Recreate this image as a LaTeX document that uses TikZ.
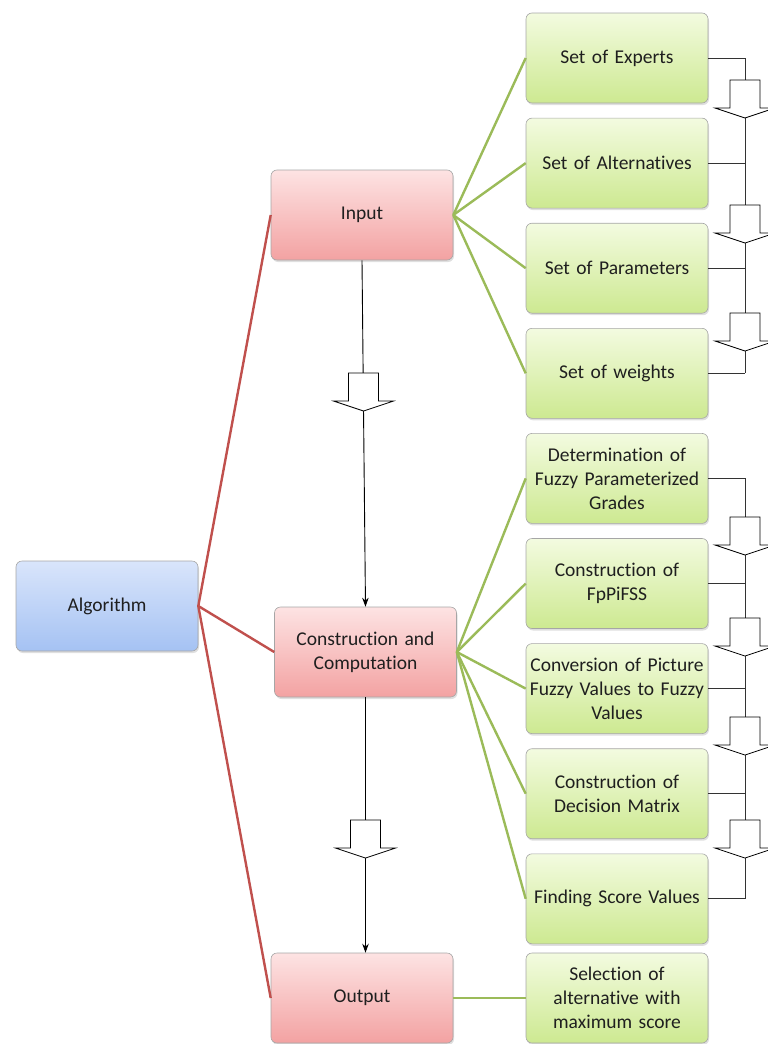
\documentclass[tikz,border=0pt]{standalone}
\usepackage{fontspec}
\setmainfont{Carlito}[Ligatures=NoCommon]
\usetikzlibrary{arrows.meta,shadows,positioning}
\definecolor{algtop}{HTML}{D9E5FB}
\definecolor{algbot}{HTML}{A5C2F3}
\definecolor{maintop}{HTML}{FDE3E3}
\definecolor{mainbot}{HTML}{F3A2A2}
\definecolor{subtop}{HTML}{F3FBE0}
\definecolor{subbot}{HTML}{CDE991}
\definecolor{redline}{HTML}{C0504D}
\definecolor{greenline}{HTML}{9BBB59}

\begin{document}
\begin{tikzpicture}[x=1pt,y=1pt,>={Stealth[length=9pt,width=6.5pt]},node distance=14.5pt,
  box/.style={rectangle, rounded corners=6pt, draw=black!35, line width=0.6pt,
    minimum height=90pt, inner xsep=3pt, text width=176pt, align=center,
    font=\fontsize{19.5}{24}\selectfont, text=black!88,
    drop shadow={opacity=0.25, shadow xshift=1pt, shadow yshift=-2pt}},
  algbox/.style={box, top color=algtop, bottom color=algbot},
  mainbox/.style={box, top color=maintop, bottom color=mainbot},
  subbox/.style={box, top color=subtop, bottom color=subbot},
  redlink/.style={draw=redline, line width=2.4pt},
  greenlink/.style={draw=greenline, line width=2.4pt},
  rail/.style={draw=black!80, line width=0.9pt},
  hollowdown/.pic={\draw[fill=white, line width=0.8pt] (-15,0) -- (15,0) -- (15,-28) -- (30,-28)
    -- (0,-38) -- (-30,-28) -- (-15,-28) -- cycle;}]
  \useasboundingbox (0,0) rectangle (768,-1044);

  \node [algbox] (alg) at (107,-606) {Algorithm};
  \node [mainbox] (inp) at (362,-215) {Input};
  \node [mainbox] (con) at (365.5,-652) {Construction and\\Computation};
  \node [mainbox] (out) at (362,-998) {Output};

  \node [subbox] (exp) at (617,-58) {Set of Experts};
  \node [subbox,below=of exp] (alt) {Set of Alternatives};
  \node [subbox,below=of alt] (par) {Set of Parameters};
  \node [subbox,below=of par] (wts) {Set of weights};
  \node [subbox,below=of wts] (det) {Determination of\\Fuzzy Parameterized\\Grades};
  \node [subbox,below=of det] (fpp) {Construction of\\FpPiFSS};
  \node [subbox,below=of fpp] (cnv) {Conversion of Picture\\Fuzzy Values to Fuzzy\\Values};
  \node [subbox,below=of cnv] (dec) {Construction of\\Decision Matrix};
  \node [subbox,below=of dec] (fsv) {Finding Score Values};
  \node [subbox] (sel) at (617,-998) {Selection of\\alternative with\\maximum score};

  % tree links
  \foreach \m in {inp,con,out}
    \path[redlink] (alg.east) -- (\m.west);
  \foreach \s in {exp,alt,par,wts}
    \path[greenlink] (inp.east) -- (\s.west);
  \foreach \s in {det,fpp,cnv,dec,fsv}
    \path[greenlink] (con.east) -- (\s.west);
  \path[greenlink] (out.east) -- (sel.west);

  % flow down the middle
  \draw[->, line width=0.9pt] (inp.south) -- (con.north);
  \draw[->, line width=0.9pt] (con.south) -- (con.south |- out.north);
  \pic at (363.5,-373) {hollowdown};
  \pic at (365.5,-820) {hollowdown};

  % right rails
  \coordinate (rx) at (745,0);
  \foreach \s in {exp,alt,par,wts,det,fpp,cnv,dec,fsv}
    \path[rail] (\s.east) -- (\s.east -| rx);
  \path[rail] (exp.east -| rx) -- (wts.east -| rx);
  \path[rail] (det.east -| rx) -- (fsv.east -| rx);
  \foreach \y in {80,205,313,517,618,717,820}
    \pic at (745,-\y) {hollowdown};
\end{tikzpicture}
\end{document}
